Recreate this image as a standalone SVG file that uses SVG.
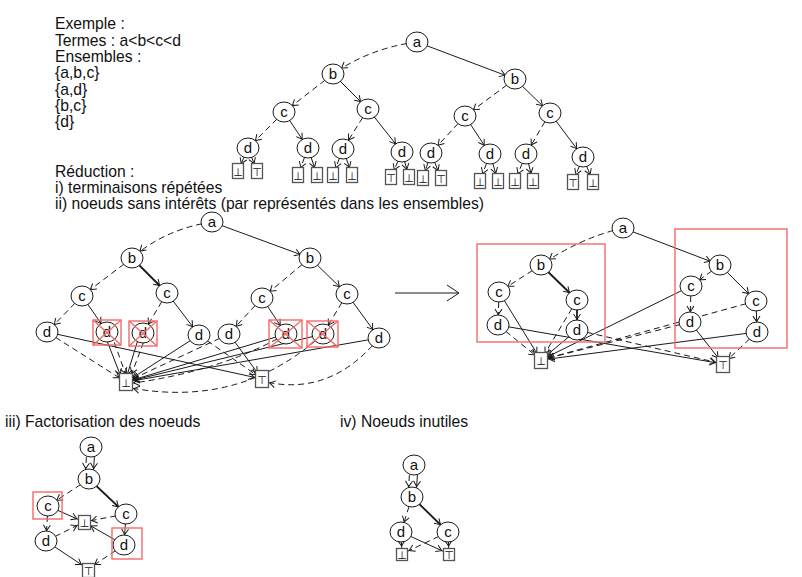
<svg xmlns="http://www.w3.org/2000/svg" width="802" height="577" viewBox="0 0 802 577">
<style>
.e{fill:none;stroke:#1a1a1a;stroke-width:1}
.ds{stroke-dasharray:6 4}
.bd{stroke-width:1.8}
.c{marker-end:url(#ac)}
.x{marker-end:url(#ab)}
.n ellipse{fill:#fff;stroke:#1a1a1a;stroke-width:1}
.n text{font-family:"Liberation Sans","DejaVu Sans",sans-serif;font-size:15px;text-anchor:middle;fill:#111}
.lf rect{fill:#fff;stroke:#555;stroke-width:1.3}
.lf text{font-family:"DejaVu Sans",sans-serif;font-size:11px;text-anchor:middle;fill:#111}
.red{fill:none;stroke:#f46a6a;stroke-width:1.4}
.lbl{font-family:"Liberation Sans","DejaVu Sans",sans-serif;font-size:15.7px;fill:#111}
</style>
<defs>
<marker id="ac" markerUnits="userSpaceOnUse" viewBox="-20 -10 30 20" markerWidth="30" markerHeight="20" refX="0" refY="0" orient="auto" overflow="visible"><path d="M-16,-3.5 L-10.5,0 L-16,3.5" fill="none" stroke="#1a1a1a" stroke-width="1"/></marker>
<marker id="ab" markerUnits="userSpaceOnUse" viewBox="-20 -10 30 20" markerWidth="30" markerHeight="20" refX="0" refY="0" orient="auto" overflow="visible"><path d="M-13.5,-3.5 L-8,0 L-13.5,3.5" fill="none" stroke="#1a1a1a" stroke-width="1"/></marker>
</defs>
<rect width="802" height="577" fill="#fff"/>
<g id="texts" class="lbl">
<text x="55" y="29">Exemple :</text>
<text x="55" y="45.5">Termes : a&lt;b&lt;c&lt;d</text>
<text x="55" y="62">Ensembles :</text>
<text x="55" y="78">{a,b,c}</text>
<text x="55" y="94.5">{a,d}</text>
<text x="55" y="111">{b,c}</text>
<text x="55" y="127">{d}</text>
<text x="55" y="177">Réduction :</text>
<text x="55" y="193">i) terminaisons répétées</text>
<text x="55" y="209">ii) noeuds sans intérêts (par représentés dans les ensembles)</text>
<text x="5" y="427">iii) Factorisation des noeuds</text>
<text x="340" y="427">iv) Noeuds inutiles</text>
</g>
<g id="connectors" class="e">
<path class="ds c" d="M417,42 Q370,48 333,74"/>
<path class="c" d="M417,42 L515,79"/>
<path class="ds c" d="M333,74 L284,112"/>
<path class="c" d="M333,74 L368,109"/>
<path class="ds c" d="M515,79 L465,116"/>
<path class="c" d="M515,79 L550,113"/>
<path class="ds c" d="M284,112 L248,148"/>
<path class="c" d="M284,112 L308,148"/>
<path class="ds c" d="M368,109 L343,149"/>
<path class="c" d="M368,109 L402,152"/>
<path class="ds c" d="M465,116 L431,153"/>
<path class="c" d="M465,116 L490,154"/>
<path class="ds c" d="M550,113 L526,154"/>
<path class="c" d="M550,113 L583,157"/>
<path class="ds x" d="M248,148 L238,171"/><path class="x" d="M248,148 L257,171"/>
<path class="ds x" d="M308,148 L298,175"/><path class="x" d="M308,148 L317,175"/>
<path class="ds x" d="M343,149 L333,175"/><path class="x" d="M343,149 L352,175"/>
<path class="ds x" d="M402,152 L391,177"/><path class="x" d="M402,152 L409,177"/>
<path class="ds x" d="M431,153 L423,178"/><path class="x" d="M431,153 L441,178"/>
<path class="ds x" d="M490,154 L480,181"/><path class="x" d="M490,154 L498,181"/>
<path class="ds x" d="M526,154 L515,181"/><path class="x" d="M526,154 L533,181"/>
<path class="ds x" d="M583,157 L573,182"/><path class="x" d="M583,157 L593,182"/>
<path class="ds c" d="M212,222 Q165,229 132,258"/>
<path class="c" d="M212,222 L310,258"/>
<path class="ds c" d="M132,258 L82,296"/>
<path class="bd c" d="M132,258 L167,293"/>
<path class="ds c" d="M310,258 L262,298"/>
<path class="c" d="M310,258 L347,294"/>
<path class="ds c" d="M82,296 L47,332"/>
<path class="c" d="M82,296 L107,332"/>
<path class="ds c" d="M167,293 L143,333"/>
<path class="c" d="M167,293 L199,335"/>
<path class="ds c" d="M262,298 L229,334"/>
<path class="c" d="M262,298 L286,334"/>
<path class="ds c" d="M347,294 L323,334"/>
<path class="c" d="M347,294 L379,338"/>
<path class="ds x" d="M47,332 L126,382"/>
<path class="x" d="M47,332 L262,379"/>
<path class="x" d="M104,333 L123,382"/>
<path class="ds x" d="M111,333 L128,381"/>
<path class="x" d="M140,333 L125,382"/>
<path class="ds x" d="M147,333 L129,381"/>
<path class="x" d="M199,335 L126,382"/>
<path class="ds x" d="M199,335 L262,379"/>
<path class="ds x" d="M229,334 L126,382"/>
<path class="x" d="M229,334 L262,379"/>
<path class="x" d="M286,334 L126,382"/>
<path class="ds x" d="M286,334 Q220,372 126,384"/>
<path class="x" d="M323,334 L126,382"/>
<path class="ds x" d="M323,334 Q240,410 126,387"/>
<path class="x" d="M379,338 L126,382"/>
<path class="ds x" d="M379,338 Q330,398 262,381"/>
<path d="M395,293 L459,293 M447,285 L459,293 L447,301"/>
<path class="ds c" d="M623,228 Q580,238 541,265"/>
<path class="c" d="M623,228 L720,265"/>
<path class="ds c" d="M541,265 L499,292"/>
<path class="bd c" d="M541,265 L577,300"/>
<path class="ds c" d="M720,265 L691,286"/>
<path class="c" d="M720,265 L756,301"/>
<path class="ds c" d="M499,292 L498,325"/>
<path class="x" d="M499,292 L541,360"/>
<path class="bd c" d="M577,300 L577,330"/>
<path class="ds x" d="M577,300 L541,360"/>
<path class="ds x" d="M498,325 L541,360"/>
<path class="x" d="M498,325 L723,364"/>
<path class="x" d="M577,330 L541,360"/>
<path class="ds x" d="M577,330 L723,364"/>
<path class="ds c" d="M691,286 L690,322"/>
<path class="x" d="M691,286 L541,360"/>
<path class="c" d="M756,301 L757,332"/>
<path class="ds x" d="M756,301 L541,360"/>
<path class="ds x" d="M690,322 L541,360"/>
<path class="x" d="M690,322 L723,364"/>
<path class="x" d="M757,332 L541,360"/>
<path class="ds x" d="M757,332 L723,364"/>
<path class="ds c" d="M87,447 L85,479"/>
<path class="c" d="M95,447 L93,479"/>
<path class="ds c" d="M89,479 L48,506"/>
<path class="bd c" d="M89,479 L126,514"/>
<path class="x" d="M48,506 L84,522"/>
<path class="ds c" d="M48,506 L46,541"/>
<path class="ds x" d="M126,514 L84,522"/>
<path class="c" d="M126,514 L124,545"/>
<path class="ds x" d="M46,541 L84,522"/>
<path class="x" d="M46,541 L88,569"/>
<path class="x" d="M124,545 L84,522"/>
<path class="ds x" d="M124,545 L88,569"/>
<path class="ds c" d="M410,465 L408,497"/>
<path class="c" d="M418,465 L416,497"/>
<path class="ds c" d="M412,497 L401,532"/>
<path class="bd c" d="M412,497 L448,532"/>
<path class="ds x" d="M401,532 L402,554"/>
<path class="x" d="M401,532 L449,554"/>
<path class="ds x" d="M448,532 L402,554"/>
<path class="x" d="M448,532 L449,554"/>
</g>
<g id="t_a" class="n"><ellipse cx="417" cy="42" rx="11" ry="10"/><text x="417" y="47">a</text></g>
<g id="t_b1" class="n"><ellipse cx="333" cy="74" rx="11" ry="10"/><text x="333" y="79">b</text></g>
<g id="t_b2" class="n"><ellipse cx="515" cy="79" rx="11" ry="10"/><text x="515" y="84">b</text></g>
<g id="t_c1" class="n"><ellipse cx="284" cy="112" rx="11" ry="10"/><text x="284" y="117">c</text></g>
<g id="t_c2" class="n"><ellipse cx="368" cy="109" rx="11" ry="10"/><text x="368" y="114">c</text></g>
<g id="t_c3" class="n"><ellipse cx="465" cy="116" rx="11" ry="10"/><text x="465" y="121">c</text></g>
<g id="t_c4" class="n"><ellipse cx="550" cy="113" rx="11" ry="10"/><text x="550" y="118">c</text></g>
<g id="t_d1" class="n"><ellipse cx="248" cy="148" rx="11" ry="10"/><text x="248" y="153">d</text></g>
<g id="t_d2" class="n"><ellipse cx="308" cy="148" rx="11" ry="10"/><text x="308" y="153">d</text></g>
<g id="t_d3" class="n"><ellipse cx="343" cy="149" rx="11" ry="10"/><text x="343" y="154">d</text></g>
<g id="t_d4" class="n"><ellipse cx="402" cy="152" rx="11" ry="10"/><text x="402" y="157">d</text></g>
<g id="t_d5" class="n"><ellipse cx="431" cy="153" rx="11" ry="10"/><text x="431" y="158">d</text></g>
<g id="t_d6" class="n"><ellipse cx="490" cy="154" rx="11" ry="10"/><text x="490" y="159">d</text></g>
<g id="t_d7" class="n"><ellipse cx="526" cy="154" rx="11" ry="10"/><text x="526" y="159">d</text></g>
<g id="t_d8" class="n"><ellipse cx="583" cy="157" rx="11" ry="10"/><text x="583" y="162">d</text></g>
<g id="t_l1" class="lf"><rect x="232.5" y="163.5" width="11" height="15"/><text x="238" y="175.5">⊥</text></g>
<g id="t_l2" class="lf"><rect x="251.5" y="163.5" width="11" height="15"/><text x="257" y="175.5">⊤</text></g>
<g id="t_l3" class="lf"><rect x="292.5" y="167.5" width="11" height="15"/><text x="298" y="179.5">⊥</text></g>
<g id="t_l4" class="lf"><rect x="311.5" y="167.5" width="11" height="15"/><text x="317" y="179.5">⊥</text></g>
<g id="t_l5" class="lf"><rect x="327.5" y="167.5" width="11" height="15"/><text x="333" y="179.5">⊥</text></g>
<g id="t_l6" class="lf"><rect x="346.5" y="167.5" width="11" height="15"/><text x="352" y="179.5">⊥</text></g>
<g id="t_l7" class="lf"><rect x="385.5" y="169.5" width="11" height="15"/><text x="391" y="181.5">⊤</text></g>
<g id="t_l8" class="lf"><rect x="403.5" y="169.5" width="11" height="15"/><text x="409" y="181.5">⊥</text></g>
<g id="t_l9" class="lf"><rect x="417.5" y="170.5" width="11" height="15"/><text x="423" y="182.5">⊥</text></g>
<g id="t_l10" class="lf"><rect x="435.5" y="170.5" width="11" height="15"/><text x="441" y="182.5">⊤</text></g>
<g id="t_l11" class="lf"><rect x="474.5" y="173.5" width="11" height="15"/><text x="480" y="185.5">⊥</text></g>
<g id="t_l12" class="lf"><rect x="492.5" y="173.5" width="11" height="15"/><text x="498" y="185.5">⊥</text></g>
<g id="t_l13" class="lf"><rect x="509.5" y="173.5" width="11" height="15"/><text x="515" y="185.5">⊥</text></g>
<g id="t_l14" class="lf"><rect x="527.5" y="173.5" width="11" height="15"/><text x="533" y="185.5">⊥</text></g>
<g id="t_l15" class="lf"><rect x="567.5" y="174.5" width="11" height="15"/><text x="573" y="186.5">⊤</text></g>
<g id="t_l16" class="lf"><rect x="587.5" y="174.5" width="11" height="15"/><text x="593" y="186.5">⊥</text></g>
<g id="m_a" class="n"><ellipse cx="212" cy="222" rx="11" ry="10"/><text x="212" y="227">a</text></g>
<g id="m_b1" class="n"><ellipse cx="132" cy="258" rx="11" ry="10"/><text x="132" y="263">b</text></g>
<g id="m_b2" class="n"><ellipse cx="310" cy="258" rx="11" ry="10"/><text x="310" y="263">b</text></g>
<g id="m_c1" class="n"><ellipse cx="82" cy="296" rx="11" ry="10"/><text x="82" y="301">c</text></g>
<g id="m_c2" class="n"><ellipse cx="167" cy="293" rx="11" ry="10"/><text x="167" y="298">c</text></g>
<g id="m_c3" class="n"><ellipse cx="262" cy="298" rx="11" ry="10"/><text x="262" y="303">c</text></g>
<g id="m_c4" class="n"><ellipse cx="347" cy="294" rx="11" ry="10"/><text x="347" y="299">c</text></g>
<g id="m_d1" class="n"><ellipse cx="47" cy="332" rx="11" ry="10"/><text x="47" y="337">d</text></g>
<g id="m_dx1" class="n"><ellipse cx="107" cy="332" rx="11" ry="10"/><text x="107" y="337">d</text><rect class="red" x="93" y="320" width="28" height="25"/><path class="red" d="M93,320 L121,345 M121,320 L93,345"/></g>
<g id="m_dx2" class="n"><ellipse cx="143" cy="333" rx="11" ry="10"/><text x="143" y="338">d</text><rect class="red" x="129" y="321" width="28" height="25"/><path class="red" d="M129,321 L157,346 M157,321 L129,346"/></g>
<g id="m_d2" class="n"><ellipse cx="199" cy="335" rx="11" ry="10"/><text x="199" y="340">d</text></g>
<g id="m_d3" class="n"><ellipse cx="229" cy="334" rx="11" ry="10"/><text x="229" y="339">d</text></g>
<g id="m_dx3" class="n"><ellipse cx="286" cy="334" rx="11" ry="10"/><text x="286" y="339">d</text><rect class="red" x="269" y="320" width="33" height="28"/><path class="red" d="M269,320 L302,348 M302,320 L269,348"/></g>
<g id="m_dx4" class="n"><ellipse cx="323" cy="334" rx="11" ry="10"/><text x="323" y="339">d</text><rect class="red" x="307" y="321" width="31" height="26"/><path class="red" d="M307,321 L338,347 M338,321 L307,347"/></g>
<g id="m_d4" class="n"><ellipse cx="379" cy="338" rx="11" ry="10"/><text x="379" y="343">d</text></g>
<g id="m_bot" class="lf"><rect x="119.5" y="373.5" width="13" height="17"/><text x="126" y="386.5">⊥</text></g>
<g id="m_top" class="lf"><rect x="255.5" y="370.5" width="13" height="17"/><text x="262" y="383.5">⊤</text></g>
<g id="r_a" class="n"><ellipse cx="623" cy="228" rx="11" ry="10"/><text x="623" y="233">a</text></g>
<g id="r_b1" class="n"><ellipse cx="541" cy="265" rx="11" ry="10"/><text x="541" y="270">b</text></g>
<g id="r_b2" class="n"><ellipse cx="720" cy="265" rx="11" ry="10"/><text x="720" y="270">b</text></g>
<g id="r_c1" class="n"><ellipse cx="499" cy="292" rx="11" ry="10"/><text x="499" y="297">c</text></g>
<g id="r_c2" class="n"><ellipse cx="577" cy="300" rx="11" ry="10"/><text x="577" y="305">c</text></g>
<g id="r_c3" class="n"><ellipse cx="691" cy="286" rx="11" ry="10"/><text x="691" y="291">c</text></g>
<g id="r_c4" class="n"><ellipse cx="756" cy="301" rx="11" ry="10"/><text x="756" y="306">c</text></g>
<g id="r_d1" class="n"><ellipse cx="498" cy="325" rx="11" ry="10"/><text x="498" y="330">d</text></g>
<g id="r_d2" class="n"><ellipse cx="577" cy="330" rx="11" ry="10"/><text x="577" y="335">d</text></g>
<g id="r_d3" class="n"><ellipse cx="690" cy="322" rx="11" ry="10"/><text x="690" y="327">d</text></g>
<g id="r_d4" class="n"><ellipse cx="757" cy="332" rx="11" ry="10"/><text x="757" y="337">d</text></g>
<g id="r_bot" class="lf"><rect x="534.5" y="352.5" width="13" height="16"/><text x="541" y="364.5">⊥</text></g>
<g id="r_top" class="lf"><rect x="716.5" y="356.5" width="13" height="16"/><text x="723" y="368.5">⊤</text></g>
<g id="r_box1"><rect class="red" x="477" y="244" width="128" height="98"/></g>
<g id="r_box2"><rect class="red" x="675" y="229" width="112" height="119"/></g>
<g id="f_a" class="n"><ellipse cx="91" cy="447" rx="11" ry="10"/><text x="91" y="452">a</text></g>
<g id="f_b" class="n"><ellipse cx="89" cy="479" rx="11" ry="10"/><text x="89" y="484">b</text></g>
<g id="f_c1" class="n"><ellipse cx="48" cy="506" rx="11" ry="10"/><text x="48" y="511">c</text><rect class="red" x="33" y="492" width="29" height="27"/></g>
<g id="f_c2" class="n"><ellipse cx="126" cy="514" rx="11" ry="10"/><text x="126" y="519">c</text></g>
<g id="f_bot" class="lf"><rect x="78.5" y="515.5" width="12" height="14"/><text x="84.5" y="526.5">⊥</text></g>
<g id="f_d1" class="n"><ellipse cx="46" cy="541" rx="11" ry="10"/><text x="46" y="546">d</text></g>
<g id="f_d2" class="n"><ellipse cx="124" cy="545" rx="11" ry="10"/><text x="124" y="550">d</text><rect class="red" x="112" y="528" width="30" height="31"/></g>
<g id="f_top" class="lf"><rect x="82.5" y="563.5" width="12" height="14"/><text x="88.5" y="574.5">⊤</text></g>
<g id="u_a" class="n"><ellipse cx="414" cy="465" rx="11" ry="10"/><text x="414" y="470">a</text></g>
<g id="u_b" class="n"><ellipse cx="412" cy="497" rx="11" ry="10"/><text x="412" y="502">b</text></g>
<g id="u_d" class="n"><ellipse cx="401" cy="532" rx="11" ry="10"/><text x="401" y="537">d</text></g>
<g id="u_c" class="n"><ellipse cx="448" cy="532" rx="11" ry="10"/><text x="448" y="537">c</text></g>
<g id="u_bot" class="lf"><rect x="396.5" y="548.5" width="11" height="12"/><text x="402" y="558.5">⊥</text></g>
<g id="u_top" class="lf"><rect x="443.5" y="548.5" width="11" height="12"/><text x="449" y="558.5">⊤</text></g>
</svg>
